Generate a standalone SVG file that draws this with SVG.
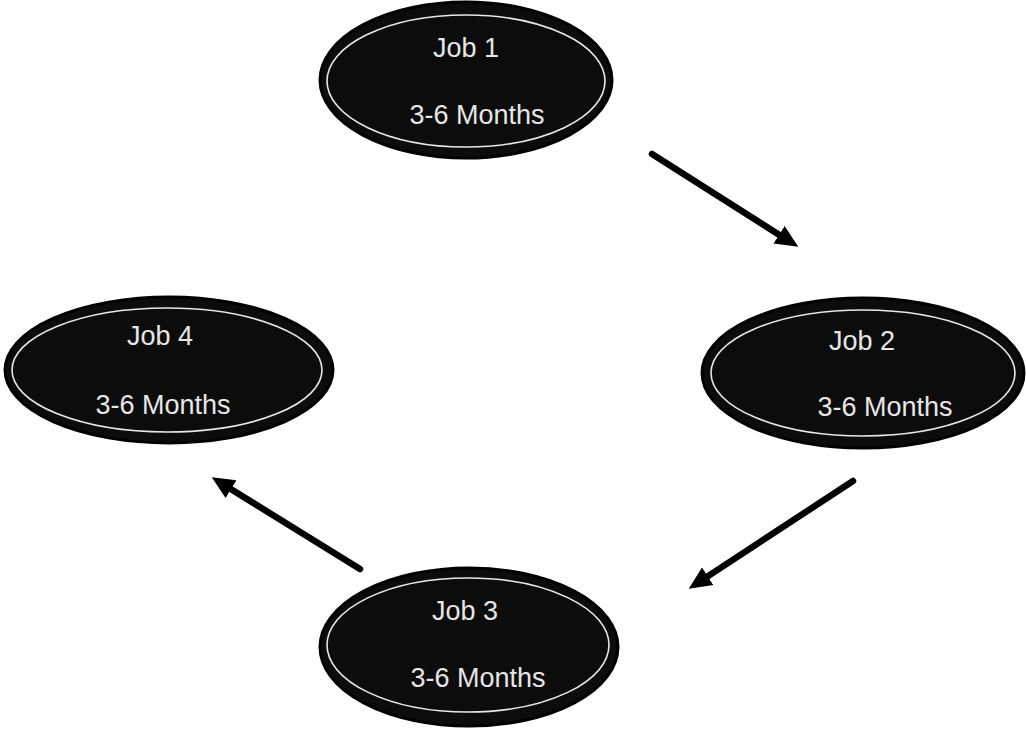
<svg xmlns="http://www.w3.org/2000/svg" width="1026" height="730" viewBox="0 0 1026 730">
<style>
.outer{fill:#0c0c0c;stroke:#000;stroke-width:3}
.inner{fill:none;stroke:#e8e8e8;stroke-width:1.6}
.lbl{font-family:"Liberation Sans",Arial,sans-serif;font-size:27px;fill:#e6e6e6;text-anchor:middle}
.conn{fill:none;stroke:#000;stroke-width:6.5;stroke-linecap:round}
</style>
<defs>
<marker id="ah" markerUnits="strokeWidth" markerWidth="4" markerHeight="4" viewBox="0 -2 4 4" refX="0.5" refY="0" orient="auto">
<path d="M0,-1.6 L3.5,0 L0,1.6 Z" fill="#000"/>
</marker>
</defs>
<rect width="1026" height="730" fill="#fff"/>
<g id="job1">
<ellipse class="outer" cx="466" cy="80" rx="146" ry="78"/>
<ellipse class="inner" cx="466" cy="81" rx="139" ry="66"/>
<text class="lbl" x="466" y="57">Job 1</text>
<text class="lbl" x="477" y="124">3-6 Months</text>
</g>
<g id="job2">
<ellipse class="outer" cx="863" cy="373" rx="161" ry="75"/>
<ellipse class="inner" cx="863" cy="373" rx="152" ry="63"/>
<text class="lbl" x="862" y="350">Job 2</text>
<text class="lbl" x="885" y="416">3-6 Months</text>
</g>
<g id="job4">
<ellipse class="outer" cx="169" cy="370" rx="164" ry="73"/>
<ellipse class="inner" cx="167" cy="370" rx="155" ry="62"/>
<text class="lbl" x="160" y="345">Job 4</text>
<text class="lbl" x="163" y="414">3-6 Months</text>
</g>
<g id="job3">
<ellipse class="outer" cx="469" cy="647" rx="149" ry="79"/>
<ellipse class="inner" cx="468" cy="645" rx="141" ry="67"/>
<text class="lbl" x="465" y="620">Job 3</text>
<text class="lbl" x="478" y="687">3-6 Months</text>
</g>
<g id="connectors">
<path class="conn" d="M652,154 L781.8,236.4" marker-end="url(#ah)"/>
<path class="conn" d="M853,481 L705,578.1" marker-end="url(#ah)"/>
<path class="conn" d="M360,569 L228.3,487.5" marker-end="url(#ah)"/>
</g>
</svg>
